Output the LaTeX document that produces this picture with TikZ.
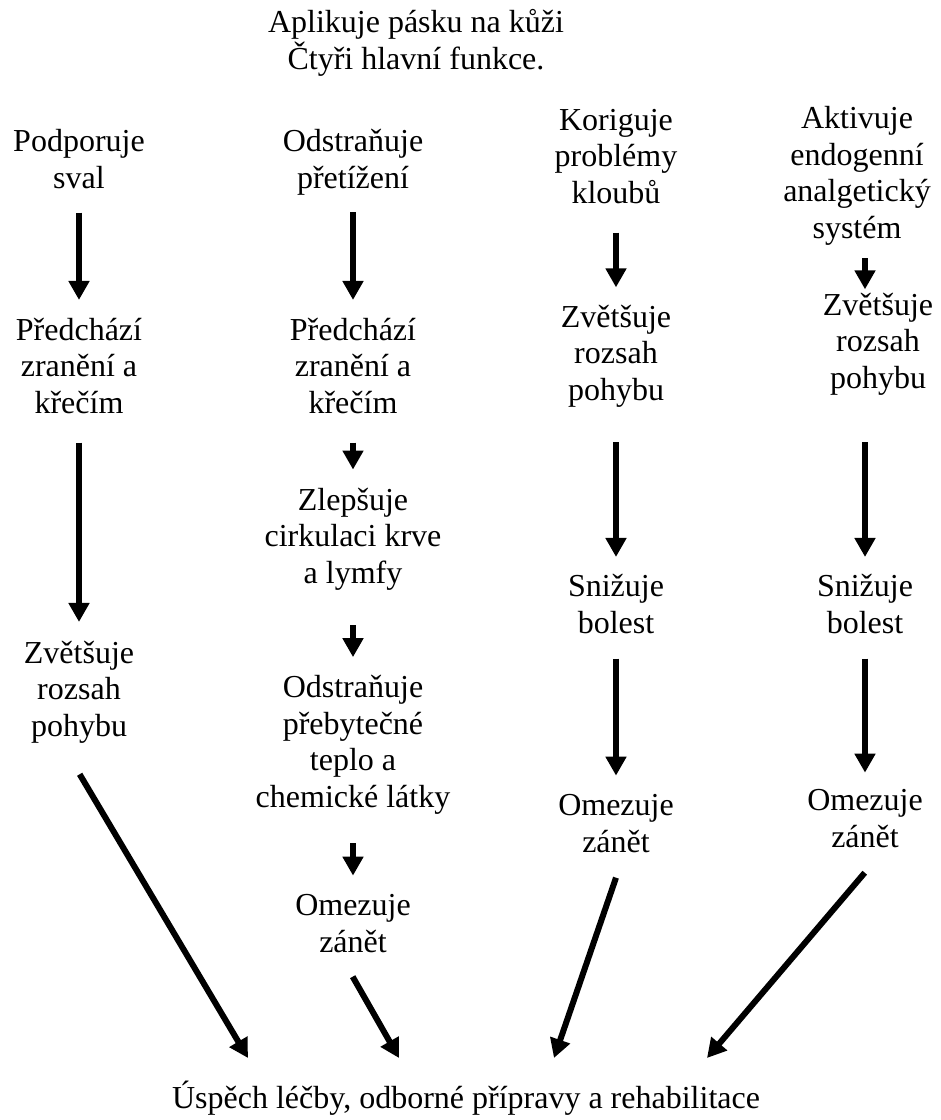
\documentclass[tikz,border=0pt]{standalone}
\usepackage{fontspec}
\setmainfont{Liberation Serif}
\usepackage{tikz}
\usetikzlibrary{arrows.meta}

\begin{document}
\begin{tikzpicture}[
    x=0.5pt, y=-0.5pt,
    txt/.style={align=center, inner sep=0pt, anchor=base, font=\fontsize{16pt}{18.2pt}\selectfont},
    arrow/.style={-{Triangle[width=10pt, length=9.5pt]}, line width=3pt}
]
    \useasboundingbox (0,0) rectangle (941,1120);

    \node [txt] (paska) at (416,69) {Aplikuje pásku na kůži\\Čtyři hlavní funkce.};

    \node [txt] (podpora) at (79,188) {Podporuje\\sval};
    \node [txt] (prevence1) at (79,413) {Předchází\\zranění a\\křečím};
    \node [txt] (rozsah1) at (79,736) {Zvětšuje\\rozsah\\pohybu};

    \node [txt] (odlehceni) at (353,188) {Odstraňuje\\přetížení};
    \node [txt] (prevence2) at (353,413) {Předchází\\zranění a\\křečím};
    \node [txt] (cirkulace) at (353,583) {Zlepšuje\\cirkulaci krve\\a lymfy};
    \node [txt] (teplo) at (353,807) {Odstraňuje\\přebytečné\\teplo a\\chemické látky};
    \node [txt] (zanet2) at (353,952) {Omezuje\\zánět};

    \node [txt] (klouby) at (616,203) {Koriguje\\problémy\\kloubů};
    \node [txt] (rozsah3) at (616,400) {Zvětšuje\\rozsah\\pohybu};
    \node [txt] (bolest3) at (616,633) {Snižuje\\bolest};
    \node [txt] (zanet3) at (616,852) {Omezuje\\zánět};

    \node [txt] (analgezie) at (857,238) {Aktivuje\\endogenní\\analgetický\\systém};
    \node [txt] (rozsah4) at (878,388) {Zvětšuje\\rozsah\\pohybu};
    \node [txt] (bolest4) at (865,633) {Snižuje\\bolest};
    \node [txt] (zanet4) at (865,847) {Omezuje\\zánět};

    \node [txt] (uspech) at (466,1108) {Úspěch léčby, odborné přípravy a rehabilitace};

    \coordinate (cil1) at (248,1058);
    \coordinate (cil2) at (399,1058);
    \coordinate (cil3) at (554,1058);
    \coordinate (cil4) at (707,1058);

    \draw [arrow, shorten <=12pt, shorten >=8.8pt] (podpora) -- (prevence1);
    \draw [arrow, shorten <=14.5pt, shorten >=9.3pt] (prevence1) -- (rozsah1);
    \draw [arrow, shorten <=18pt] ([xshift=-8.85pt]rozsah1.south) -- (cil1);

    \draw [arrow, shorten <=8.5pt, shorten >=8.8pt] (odlehceni) -- (prevence2);
    \draw [arrow, shorten <=14.5pt, shorten >=9pt] (prevence2) -- (cirkulace);
    \draw [arrow, shorten <=17.5pt, shorten >=9pt] (cirkulace) -- (teplo);
    \draw [arrow, shorten <=14.5pt, shorten >=9.2pt] (teplo) -- (zanet2);
    \draw [arrow, shorten <=13.8pt] ([xshift=-7pt]zanet2.south) -- (cil2);

    \draw [arrow, shorten <=14.5pt, shorten >=8.6pt] (klouby) -- (rozsah3);
    \draw [arrow, shorten <=17.5pt, shorten >=8.5pt] (rozsah3) -- (bolest3);
    \draw [arrow, shorten <=12.5pt, shorten >=9.2pt] (bolest3) -- (zanet3);
    \draw [arrow, shorten <=13.2pt] ([xshift=4.3pt]zanet3.south) -- (cil3);

    \draw [arrow, shorten <=6.5pt, shorten >=1.6pt] (analgezie.south -| bolest4) -- (rozsah4.north -| bolest4);
    \draw [arrow, shorten <=23.5pt, shorten >=8.5pt] (rozsah4.south -| bolest4) -- (bolest4);
    \draw [arrow, shorten <=12.5pt, shorten >=8.2pt] (bolest4) -- (zanet4);
    \draw [arrow, shorten <=16.4pt] ([xshift=10.5pt]zanet4.south) -- (cil4);
\end{tikzpicture}
\end{document}
